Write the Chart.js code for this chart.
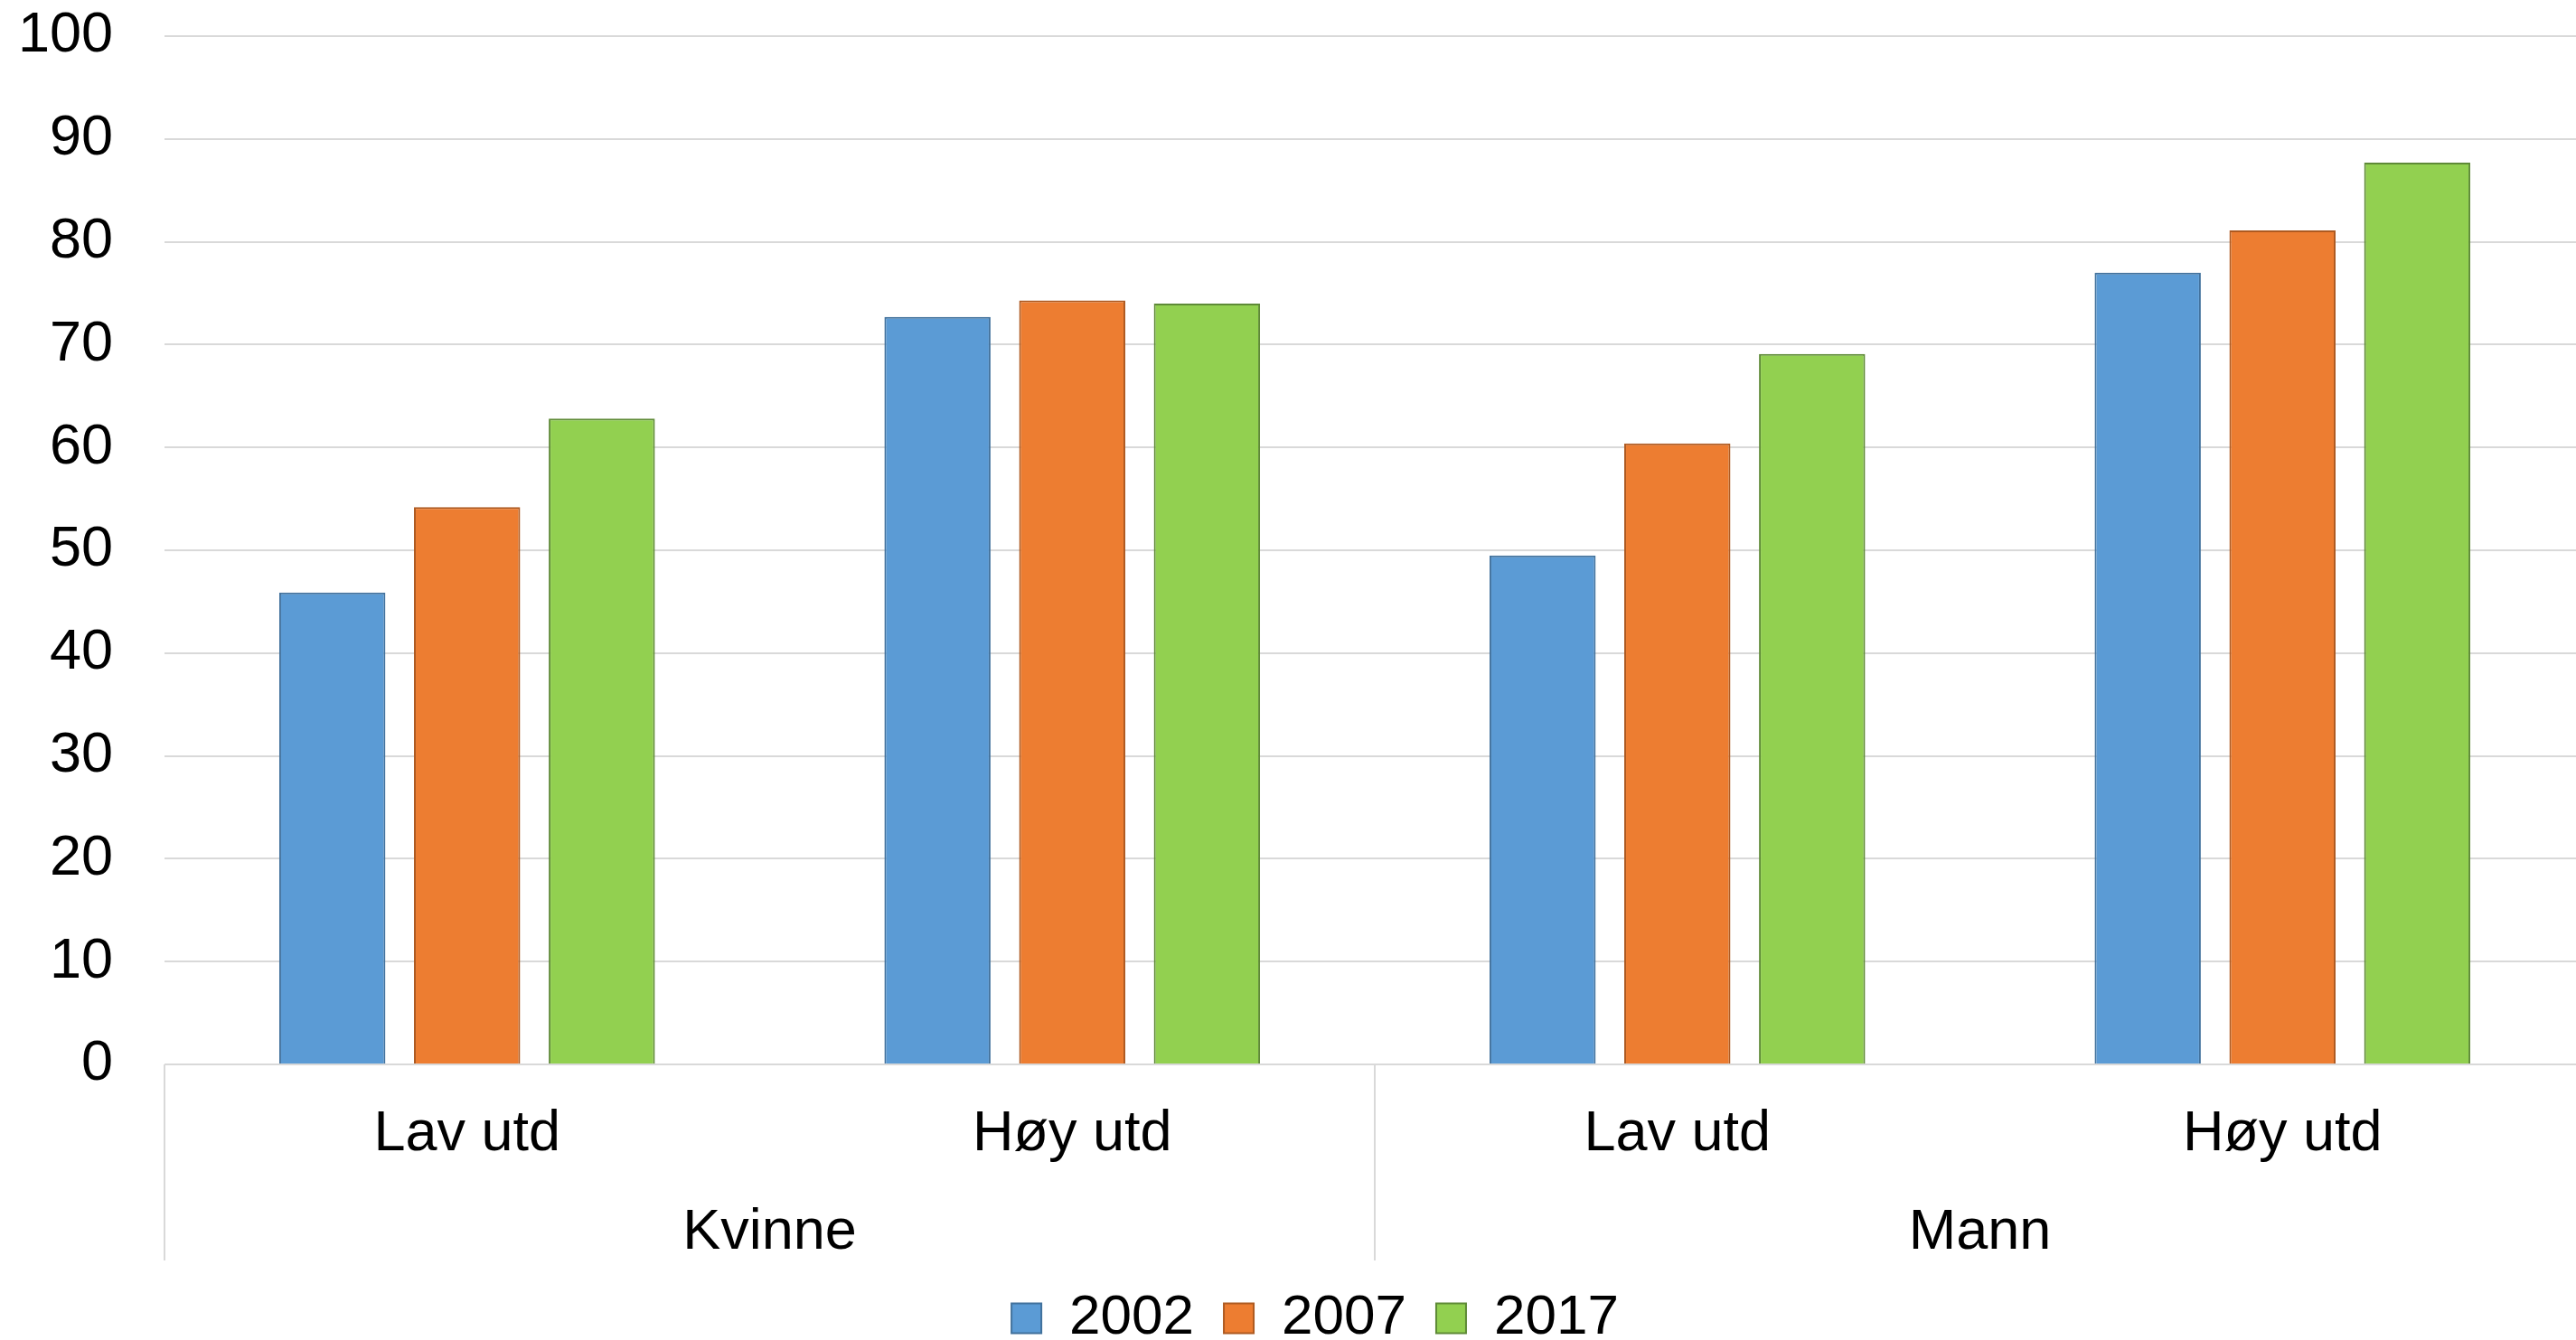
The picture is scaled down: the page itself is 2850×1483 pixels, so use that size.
<!DOCTYPE html>
<html>
<head>
<meta charset="utf-8">
<script src="https://cdn.jsdelivr.net/npm/chart.js@4"></script>
<style>
  body { margin: 0; background: #fff; }
  #wrap { width: 2850px; height: 1483px; }
</style>
</head>
<body>
<div id="wrap"><canvas id="barChart"></canvas></div>
<script>
var categories = ['Lav utd', 'Høy utd', 'Lav utd', 'Høy utd'];
var groups = ['Kvinne', 'Mann'];
var years = ['2002', '2007', '2017'];
var values2002 = [45.9, 72.7, 49.5, 77.0];
var values2007 = [54.2, 74.3, 60.4, 81.1];
var values2017 = [62.8, 74.0, 69.1, 87.7];

var fillColors = ['#5B9BD5', '#ED7D31', '#92D050'];
var edgeColors = ['#41719C', '#AE5A21', '#5E8A36'];
var gridColor = '#D9D9D9';
var font = 'Liberation Sans, Arial, sans-serif';

// vertical separators under the axis: left edge, between the groups, right edge
var separators = {
    id: 'separators',
    afterLayout: function(chart) {
        // legend sits a little right of the canvas centre
        chart.legend.left += 30;
        chart.legend.right += 30;
        // category axis runs slightly past the right edge of the canvas
        ['x', 'x2'].forEach(function(id) {
            var s = chart.scales[id];
            s.right += 10;
            s.width += 10;
            s.configure();
        });
    },
    afterDraw: function(chart) {
        var x = chart.scales.x;
        var ctx = chart.ctx;
        var mid = (x.getPixelForValue(1) + x.getPixelForValue(2)) / 2;
        var top = chart.chartArea.bottom;
        var bottom = chart.scales.x2.bottom;
        ctx.save();
        ctx.strokeStyle = gridColor;
        ctx.lineWidth = 2;
        [x.left, mid, x.right].forEach(function(px) {
            ctx.beginPath();
            ctx.moveTo(px, top);
            ctx.lineTo(px, bottom);
            ctx.stroke();
        });
        ctx.restore();
    }
};

var seriesValues = [values2002, values2007, values2017];

new Chart(document.getElementById('barChart'), {
    type: 'bar',
    data: {
        labels: categories,
        datasets: years.map(function(y, i) {
            return {
                label: y,
                data: seriesValues[i],
                backgroundColor: fillColors[i],
                borderColor: edgeColors[i],
                borderWidth: 2,
                categoryPercentage: 0.668,
                barPercentage: 0.788
            };
        })
    },
    plugins: [separators],
    options: {
        responsive: true,
        maintainAspectRatio: false,
        animation: false,
        layout: { padding: { left: 0, top: 40, right: 0, bottom: -17 } },
        plugins: {
            legend: {
                position: 'bottom',
                labels: {
                    boxWidth: 33,
                    boxHeight: 33,
                    padding: 33,
                    color: '#000',
                    font: { family: font, size: 62 }
                }
            },
            tooltip: { enabled: false }
        },
        scales: {
            y: {
                min: 0,
                max: 100,
                afterFit: function(s) { s.width = 182; s.paddingTop = 0; s.paddingBottom = 0; },
                ticks: {
                    stepSize: 10,
                    padding: 57,
                    color: '#000',
                    font: { family: font, size: 63 }
                },
                grid: { color: gridColor, lineWidth: 2, drawTicks: false },
                border: { display: false }
            },
            x: {
                afterFit: function(s) { s.height = 108; s.paddingLeft = 0; s.paddingRight = 0; },
                ticks: {
                    padding: 32,
                    color: '#000',
                    font: { family: font, size: 63 }
                },
                grid: { display: false },
                border: { display: false }
            },
            x2: {
                type: 'category',
                position: 'bottom',
                labels: groups,
                offset: true,
                afterFit: function(s) { s.height = 109; s.paddingLeft = 0; s.paddingRight = 0; },
                ticks: {
                    padding: 33,
                    color: '#000',
                    font: { family: font, size: 63 }
                },
                grid: { display: false },
                border: { display: false }
            }
        }
    }
});
</script>
</body>
</html>
